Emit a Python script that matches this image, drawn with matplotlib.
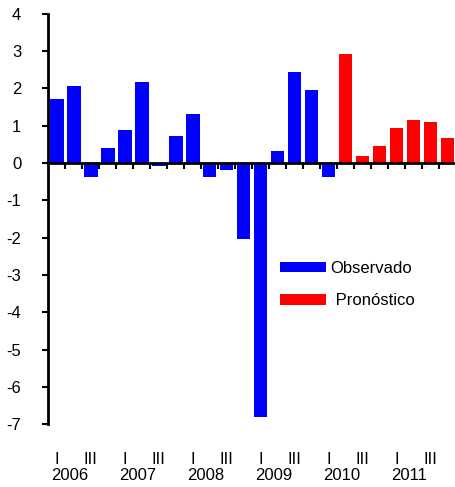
import numpy as np
import matplotlib
matplotlib.use('Agg')
import matplotlib.pyplot as plt
import matplotlib.transforms as mtransforms

plt.rcParams['font.family'] = ['Liberation Sans', 'DejaVu Sans']
plt.rcParams['axes.unicode_minus'] = False

# quarterly values 2006 Q1 - 2011 Q4
years = ['2006', '2007', '2008', '2009', '2010', '2011']
quarter_labels = ['I', '', 'III', '']
observed = [1.70, 2.06, -0.39, 0.39, 0.88, 2.16, -0.08, 0.72,
            1.31, -0.39, -0.19, -2.05, -6.82, 0.33, 2.43, 1.95, -0.39]
forecast = [2.91, 0.18, 0.45, 0.93, 1.14, 1.09, 0.66]

n_obs = len(observed)
n_all = n_obs + len(forecast)
x_obs = np.arange(n_obs)
x_fc = np.arange(n_obs, n_all)

fig = plt.figure(figsize=(4.56, 4.87), dpi=100)
ax = fig.add_axes([0.106, 0.129, 0.894, 0.843])

ax.bar(x_obs, observed, width=0.8, color='#0000ff', label='Observado')
ax.bar(x_fc, forecast, width=0.8, color='#ff0000', label=' Pronóstico')

ax.set_xlim(-0.5, n_all - 0.5)
ax.set_ylim(-7, 4)
ax.set_yticks(range(-7, 5))

for s in ['top', 'right']:
    ax.spines[s].set_visible(False)
ax.spines['left'].set_linewidth(2)
ax.spines['bottom'].set_linewidth(2)
ax.spines['bottom'].set_position(('data', 0))

ax.set_xticks(np.arange(0.5, n_all - 1, 1.0))
ax.set_xticklabels([])
ax.tick_params(axis='x', direction='out', length=4, width=1.5)
ax.tick_params(axis='y', direction='out', length=4.5, width=1.5,
               labelsize=12, pad=15)

# quarter and year labels below the plot
trans = mtransforms.blended_transform_factory(ax.transData, fig.transFigure)
for i in range(n_all):
    q = quarter_labels[i % 4]
    if q:
        ax.text(i, 1 - 460 / 487, q, transform=trans, ha='center',
                va='center', fontsize=12)
for k, yr in enumerate(years):
    ax.text(4 * k + 0.75, 1 - 476 / 487, yr, transform=trans, ha='center',
            va='center', fontsize=12)

ax.legend(loc='upper left', bbox_to_anchor=(0.568, 0.398), frameon=False,
          fontsize=12, handlelength=2.75, handleheight=0.6,
          handletextpad=0.3, labelspacing=1.05, borderpad=0, borderaxespad=0)

fig.savefig('out.png', dpi=100)
